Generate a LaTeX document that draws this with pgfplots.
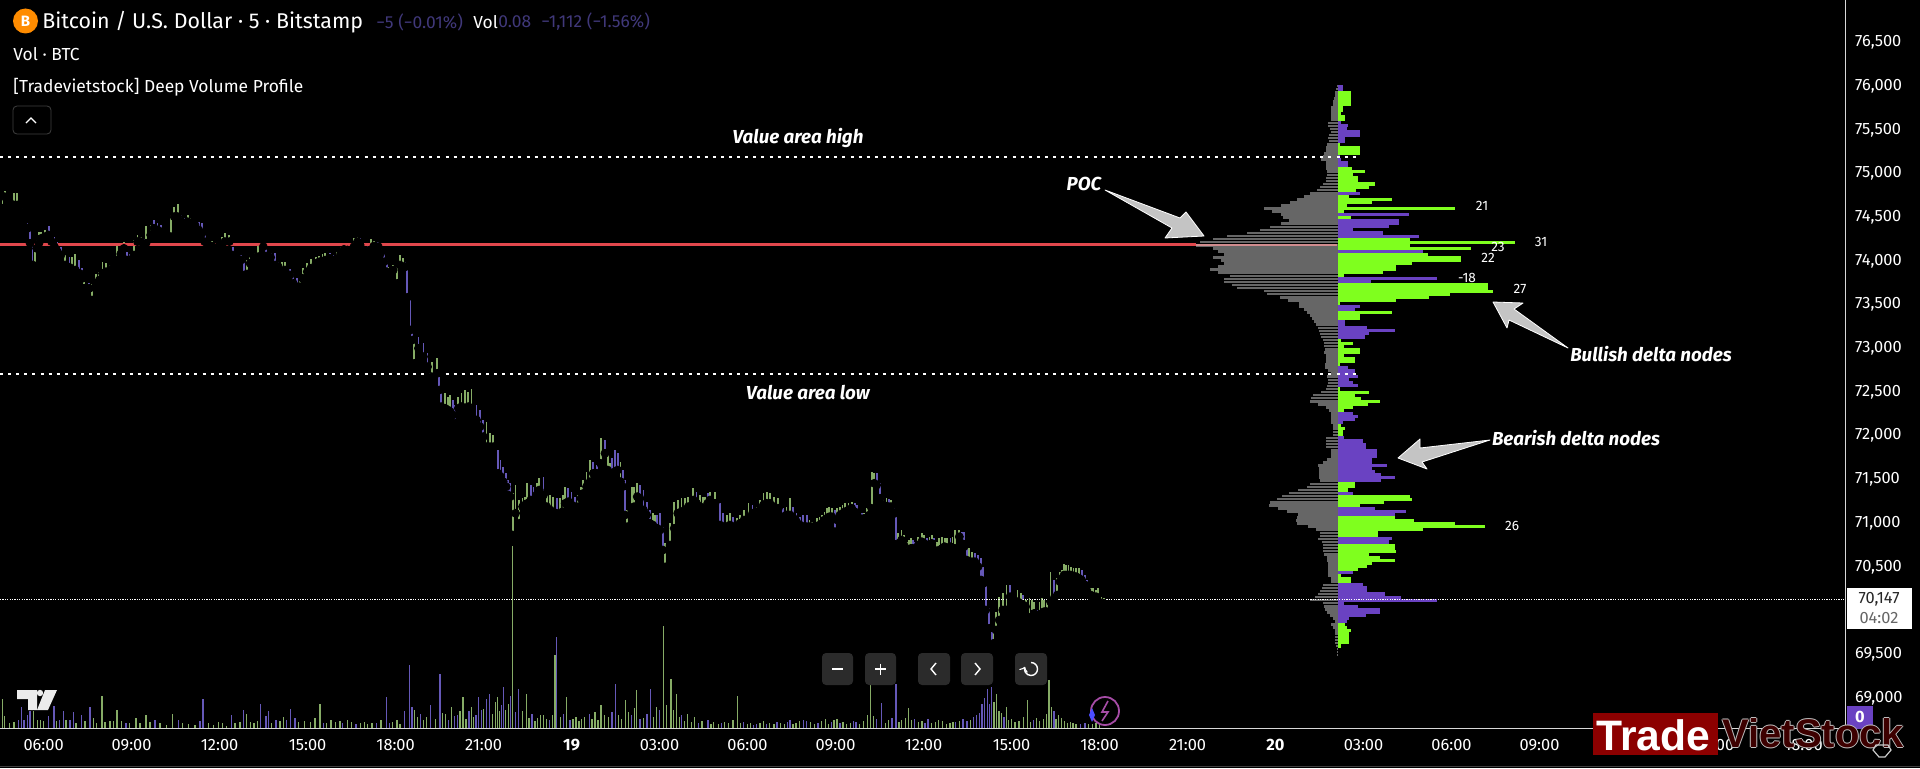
\documentclass[border=0pt]{standalone}
\usepackage{pgfplots}
\usepackage{pgfplotstable}
\usepackage{fontspec}
\pgfplotsset{compat=1.18}
\setmainfont{Fira Sans}
\newfontfamily\logofont{Liberation Sans}
\definecolor{cup}{HTML}{86AC66}
\definecolor{cdn}{HTML}{6558B8}
\definecolor{pgreen}{HTML}{7FFF1E}
\definecolor{ppurple}{HTML}{6A42C2}
\definecolor{pgray}{HTML}{666666}
\definecolor{axisc}{HTML}{D8D8D8}
\definecolor{dimp}{HTML}{40387A}
\definecolor{pocred}{HTML}{E0474C}
\definecolor{btn}{HTML}{2B2B2B}
\definecolor{arrowg}{HTML}{C4C4C4}

\pgfplotstableread{
t lo hi d
4.60 74602 74754 1
4.67 74735 74804 1
4.76 74690 74743 0
4.85 74667 74716 0
4.99 74640 74781 1
5.10 74640 74781 1
5.17 74583 74659 0
5.26 74526 74602 0
5.35 74468 74564 0
5.45 74373 74487 0
5.54 74202 74392 0
5.62 73954 74221 0
5.70 73942 74202 1
5.76 74144 74240 1
5.84 74202 74335 1
5.92 74259 74335 1
6.05 74278 74354 1
6.17 74297 74400 0
6.27 74221 74335 0
6.37 74163 74278 0
6.47 74106 74221 0
6.59 74068 74163 0
6.73 73954 74068 1
6.88 73927 74049 0
6.97 73839 74049 1
7.08 73896 74080 1
7.22 73858 74011 0
7.32 73801 73915 0
7.38 73687 73820 1
7.56 73687 73744 0
7.65 73553 73736 1
7.79 73725 73851 1
7.90 73782 73877 1
8.01 73858 73992 1
8.13 73877 73973 1
8.26 73866 73954 1
8.35 73915 73992 1
8.46 73973 74041 1
8.51 74011 74202 1
8.63 74080 74144 0
8.74 74144 74221 1
8.83 74011 74106 0
8.94 74011 74080 0
9.08 74068 74240 1
9.20 74221 74297 1
9.31 74221 74278 1
9.42 74182 74247 0
9.49 74202 74400 1
9.65 74297 74411 1
9.76 74373 74468 0
9.88 74354 74430 0
10.00 74335 74411 0
10.11 74278 74354 0
10.25 74278 74316 1
10.34 74278 74526 1
10.45 74507 74621 1
10.57 74507 74651 1
10.68 74449 74526 0
10.80 74430 74487 0
10.91 74449 74526 1
11.01 74430 74487 1
11.16 74411 74449 0
11.29 74354 74449 0
11.40 74316 74430 0
11.49 74221 74316 0
11.58 74194 74240 1
11.73 74171 74232 1
11.96 74163 74202 1
12.07 74171 74270 1
12.18 74221 74316 1
12.33 74221 74297 1
12.45 74068 74163 0
12.60 74030 74080 0
12.74 74011 74068 0
12.84 73839 74030 0
12.94 73851 74011 1
13.04 73973 74049 1
13.17 74041 74087 1
13.32 74049 74202 1
13.49 74163 74209 1
13.58 74056 74163 0
13.74 74041 74094 0
13.89 73953 74087 0
14.00 73934 73991 0
14.12 73877 73991 1
14.23 73896 73991 1
14.40 73839 73904 0
14.51 73743 73858 0
14.63 73705 73801 0
14.74 73705 73820 1
14.83 73801 73915 1
14.99 73877 73972 1
15.11 73915 74018 1
15.29 73972 74049 1
15.40 73991 74056 1
15.51 73991 74079 1
15.60 74010 74094 1
15.76 74029 74087 0
15.90 74010 74068 0
16.01 74029 74106 1
16.13 74087 74155 1
16.24 74132 74193 1
16.36 74125 74182 0
16.47 74125 74182 1
16.58 74163 74258 1
16.70 74220 74277 1
16.79 74182 74258 0
16.90 74117 74201 0
17.04 74117 74182 0
17.15 74125 74247 1
17.26 74171 74232 1
17.41 74163 74220 0
17.49 74087 74163 0
17.61 73991 74087 0
17.70 73877 74010 0
17.75 73820 73934 1
17.92 73896 73953 1
18.06 73743 73934 1
18.15 73953 74068 1
18.26 73934 74029 1
18.34 73934 73991 0
18.40 73583 73934 0
18.51 73210 73610 0
18.57 73095 73229 0
18.64 72828 73133 1
18.78 73000 73133 0
18.95 72905 73057 0
19.09 72790 72943 0
19.23 72676 72847 1
19.42 72714 72886 1
19.49 72523 72714 0
19.55 72333 72523 0
19.69 72314 72485 1
19.78 72295 72447 1
19.86 72276 72466 1
19.95 72237 72409 0
20.03 72142 72352 0
20.14 72314 72447 1
20.25 72333 72485 1
20.37 72314 72523 1
20.48 72333 72504 1
20.59 72256 72531 1
20.76 72180 72352 0
20.88 72104 72295 0
20.99 71990 72180 0
21.10 71875 72161 1
21.22 71875 72028 1
21.33 71875 72009 1
21.50 71570 71837 0
21.58 71532 71723 0
21.67 71475 71646 0
21.77 71417 71570 0
21.84 71322 71494 0
21.91 71303 71456 0
21.99 70865 71341 1
22.09 71113 71437 1
22.22 70998 71265 1
22.33 71189 71284 1
22.41 71208 71303 1
22.49 71227 71456 1
22.61 71265 71437 0
22.70 71227 71418 0
22.81 71322 71456 1
22.90 71379 71513 1
23.04 71322 71532 0
23.15 71189 71322 1
23.27 71151 71322 1
23.38 71113 71303 1
23.49 71113 71284 0
23.61 71055 71284 1
23.70 71132 71322 1
23.78 71227 71418 1
23.89 71246 71398 0
24.00 71208 71360 0
24.12 71189 71303 0
24.23 71189 71322 1
24.32 71284 71418 1
24.40 71341 71494 1
24.51 71418 71589 1
24.63 71475 71723 1
24.74 71570 71704 0
24.86 71570 71665 0
24.99 71684 71970 1
25.14 71799 71951 0
25.23 71608 71799 1
25.31 71532 71684 1
25.39 71570 71742 0
25.48 71589 71837 0
25.57 71608 71799 0
25.67 71475 71704 1
25.74 71418 71608 0
25.82 71094 71494 0
25.90 70960 71151 1
26.05 71151 71418 1
26.13 71189 71418 1
26.24 71303 71456 1
26.33 71284 71437 0
26.45 71151 71379 0
26.56 71094 71246 0
26.67 70998 71151 0
26.77 70979 71113 1
26.84 70941 71094 1
26.92 70941 71094 0
27.02 70922 71113 0
27.11 70693 70960 0
27.19 70500 70769 1
27.36 70750 70998 1
27.50 70941 71246 1
27.62 71113 71265 1
27.75 71132 71284 1
27.87 71151 71284 1
27.98 71189 71303 1
28.15 71265 71398 1
28.26 71227 71360 0
28.38 71189 71322 1
28.47 71170 71303 1
28.55 71151 71303 1
28.64 71227 71341 0
28.72 71265 71360 1
28.89 71227 71360 1
29.06 70979 71227 0
29.17 70960 71113 0
29.29 70960 71094 1
29.40 70979 71113 1
29.51 70960 71075 0
29.63 70960 71055 1
29.74 70998 71094 1
29.88 71036 71151 1
30.03 71055 71227 1
30.17 71113 71208 0
30.31 71075 71189 1
30.42 71151 71265 1
30.54 71208 71341 1
30.65 71227 71360 1
30.76 71227 71341 1
30.90 71189 71303 1
31.05 71170 71284 1
31.22 71075 71170 0
31.33 71094 71189 1
31.45 71094 71284 1
31.56 71055 71189 0
31.67 71017 71113 0
31.79 70979 71074 0
31.90 70960 71093 0
32.02 70960 71093 0
32.11 70960 71036 1
32.19 70960 71017 1
32.36 70960 71055 1
32.45 70979 71074 1
32.53 70998 71093 1
32.62 71036 71131 1
32.70 71055 71170 1
32.79 71074 71181 1
32.87 71074 71170 1
32.98 70903 71150 0
33.06 71036 71170 1
33.15 71093 71189 1
33.24 71112 71208 1
33.32 71131 71227 1
33.44 71150 71234 1
33.55 71170 71246 1
33.65 71131 71227 0
33.74 71093 71208 0
33.89 71036 71112 0
33.97 71055 71112 1
34.06 71055 71170 1
34.15 71093 71189 1
34.23 71170 71589 1
34.32 71456 71570 1
34.40 71436 71570 0
34.52 71284 71456 0
34.63 71208 71303 1
34.74 71189 71284 1
34.81 71189 71272 0
34.89 71189 71265 1
35.01 71112 71208 0
35.07 70731 71112 0
35.14 70769 70884 1
35.25 70807 70922 1
35.33 70750 70864 1
35.43 70655 70788 1
35.50 70674 70807 1
35.57 70712 70826 1
35.63 70712 70807 0
35.71 70693 70788 0
35.82 70750 70845 1
35.94 70788 70884 1
36.02 70769 70864 1
36.11 70750 70826 0
36.20 70750 70845 1
36.28 70769 70864 1
36.36 70693 70826 0
36.45 70674 70788 1
36.54 70693 70826 1
36.64 70712 70845 1
36.72 70731 70826 1
36.79 70712 70826 1
36.92 70731 70826 0
36.99 70712 70845 1
37.07 70712 70922 1
37.22 70845 70922 1
37.30 70769 70903 0
37.38 70731 70903 0
37.47 70578 70712 0
37.55 70559 70712 1
37.65 70559 70674 1
37.75 70559 70655 0
37.86 70502 70636 0
37.96 70350 70598 0
38.04 70312 70502 0
38.12 70007 70312 0
38.24 69797 70026 0
38.32 69549 69816 0
38.38 69625 69816 1
38.47 69778 69988 1
38.58 69892 70159 1
38.70 70007 70197 1
38.83 70007 70293 1
38.95 70159 70293 0
39.06 70102 70178 1
39.20 70102 70235 1
39.31 70083 70197 1
39.40 70064 70178 0
39.48 70045 70121 1
39.61 69892 70140 1
39.69 69930 70121 1
39.77 69968 70102 1
39.86 69930 70007 0
39.95 69949 70102 1
40.03 69968 70140 1
40.11 69988 70121 1
40.20 69988 70102 1
40.33 70102 70445 1
40.45 70140 70350 0
40.56 70178 70369 1
40.65 70331 70445 1
40.72 70369 70464 1
40.79 70407 70533 1
40.86 70407 70521 1
40.94 70407 70521 1
41.02 70407 70502 1
41.11 70396 70483 1
41.20 70388 70483 1
41.30 70369 70483 1
41.39 70350 70464 0
41.51 70293 70407 0
41.56 70235 70350 0
41.62 70178 70254 1
41.70 70178 70254 1
41.79 70159 70254 1
41.88 70159 70235 1
41.96 70102 70254 1
42.07 70083 70159 1
42.15 70083 70140 1
}\candles

\pgfplotstableread{
t v d
4.60 30 1
4.67 13 1
4.83 6 1
4.99 7 1
5.14 9 0
5.25 22 0
5.33 9 0
5.45 14 0
5.54 18 0
5.65 18 1
5.79 9 1
5.90 9 1
5.99 8 1
6.16 13 0
6.35 23 0
6.45 8 1
6.54 9 0
6.67 18 0
6.76 9 1
6.90 9 0
7.01 17 0
7.10 6 1
7.30 14 0
7.41 8 1
7.58 22 0
7.70 11 1
7.81 6 1
7.99 33 1
8.09 7 1
8.26 8 1
8.38 8 1
8.50 19 1
8.66 8 1
8.81 6 0
8.94 6 1
9.15 11 1
9.29 6 1
9.49 14 1
9.63 7 1
9.80 9 0
9.97 6 1
10.19 4 1
10.40 15 1
10.59 9 0
10.74 6 1
10.93 5 1
11.16 4 1
11.33 8 0
11.43 30 0
11.62 6 1
11.79 4 1
11.96 7 1
12.10 6 1
12.24 3 1
12.41 14 0
12.53 6 1
12.70 7 1
12.81 19 0
12.92 15 1
13.06 7 1
13.17 6 1
13.29 8 1
13.40 25 0
13.58 13 0
13.66 18 0
13.77 6 1
13.92 9 0
14.06 8 1
14.17 12 1
14.29 9 0
14.42 20 0
14.57 11 0
14.70 7 1
14.90 8 1
15.10 7 1
15.25 11 1
15.42 25 1
15.55 6 0
15.65 6 1
15.80 9 1
15.95 7 1
16.10 8 1
16.20 6 0
16.35 9 1
16.50 7 1
16.65 5 0
16.80 6 1
16.95 7 1
17.05 5 1
17.20 6 1
17.35 6 0
17.50 9 1
17.69 32 0
17.80 6 0
17.90 7 1
18.05 9 1
18.15 5 1
18.30 18 0
18.47 64 0
18.56 22 0
18.65 19 1
18.75 12 1
18.85 15 0
18.95 9 1
19.05 12 1
19.20 24 0
19.35 10 1
19.51 55 0
19.60 16 1
19.70 15 1
19.80 9 0
19.90 22 1
20.00 13 0
20.10 14 0
20.20 18 1
20.30 32 1
20.40 10 1
20.50 18 0
20.58 22 1
20.65 12 1
20.74 14 0
20.82 32 0
20.92 19 0
21.00 20 1
21.10 30 0
21.21 35 0
21.30 15 1
21.40 27 1
21.47 32 1
21.55 18 1
21.62 24 0
21.68 42 0
21.75 19 1
21.85 25 1
21.92 33 0
21.99 183 1
22.08 17 0
22.20 40 0
22.33 18 1
22.46 35 1
22.55 11 1
22.65 15 0
22.75 8 1
22.85 11 1
22.95 14 1
23.05 14 1
23.15 10 1
23.25 9 0
23.34 14 1
23.43 74 1
23.48 92 0
23.62 12 1
23.72 15 0
23.82 32 1
23.95 9 0
24.05 10 1
24.15 12 1
24.25 8 1
24.35 10 1
24.45 12 1
24.60 15 0
24.70 10 1
24.80 17 1
24.90 9 1
25.00 24 1
25.12 14 1
25.25 12 1
25.38 17 0
25.50 45 0
25.60 14 1
25.70 10 1
25.85 29 1
25.95 17 1
26.05 14 0
26.14 21 1
26.22 39 1
26.33 10 0
26.45 11 1
26.57 15 0
26.69 40 0
26.80 12 1
26.90 22 1
27.00 19 0
27.13 103 1
27.24 24 1
27.39 50 1
27.48 19 1
27.58 35 1
27.68 12 1
27.75 14 0
27.85 8 1
27.95 15 1
28.10 7 1
28.20 12 1
28.33 6 0
28.45 8 1
28.65 9 0
28.75 5 1
28.85 7 1
29.00 5 1
29.10 6 0
29.22 7 1
29.35 6 1
29.50 9 1
29.66 33 1
29.75 6 1
29.85 7 0
30.00 5 1
30.10 6 1
30.20 4 0
30.30 5 0
30.42 6 1
30.55 8 1
30.65 5 0
30.75 6 1
30.90 5 1
31.00 7 0
31.12 6 1
31.25 5 1
31.35 7 0
31.45 9 0
31.55 5 1
31.65 6 1
31.78 8 1
31.90 9 0
32.02 8 0
32.15 7 1
32.28 5 1
32.40 6 0
32.52 8 1
32.65 10 1
32.75 5 1
32.85 7 0
32.95 9 1
33.05 10 1
33.15 6 0
33.25 7 1
33.38 5 1
33.50 6 1
33.60 8 0
33.70 7 0
33.82 5 1
33.95 8 1
34.08 14 1
34.20 45 1
34.30 13 1
34.40 10 0
34.57 26 0
34.70 6 1
34.80 9 1
34.92 11 0
35.06 45 0
35.16 7 1
35.25 9 1
35.38 11 1
35.48 21 1
35.58 9 1
35.70 10 0
35.82 7 1
35.95 8 1
36.05 6 0
36.15 10 0
36.28 6 1
36.40 7 1
36.52 9 1
36.65 8 1
36.78 5 1
36.90 6 1
37.00 7 1
37.10 7 0
37.22 8 1
37.35 10 0
37.48 8 0
37.60 9 1
37.70 12 0
37.80 14 0
37.90 16 0
37.99 25 0
38.08 31 0
38.17 40 0
38.24 25 0
38.32 42 0
38.40 27 1
38.48 35 1
38.57 18 1
38.65 16 1
38.74 12 0
38.82 22 1
38.90 9 1
39.00 10 1
39.12 7 1
39.25 8 1
39.40 12 1
39.55 29 1
39.65 7 1
39.75 9 0
39.85 11 1
39.95 8 1
40.10 10 1
40.20 15 1
40.28 49 1
40.37 22 1
40.45 18 0
40.52 10 1
40.60 14 1
40.70 11 1
40.80 8 1
40.90 6 1
41.00 7 1
41.10 6 1
41.20 5 1
41.35 5 0
41.50 6 0
41.62 5 1
41.75 5 1
41.88 6 1
42.00 4 1
}\volume

\pgfplotstableread{
p d g
76000 -0.9 0.1
75965 -0.9 0.3
75930 2.2 0.5
75895 2.2 0.6
75860 2.2 0.7
75825 2.2 0.9
75790 2.2 0.8
75755 0.9 1.2
75720 0.9 1.3
75685 0.5 1.2
75650 1.3 1.2
75615 1.3 1.3
75580 -0.5 1.8
75545 -1.8 1.7
75510 -1.5 1.4
75475 -3.8 1.2
75440 -3.8 1.6
75405 -1.3 1.8
75370 -1.3 1.6
75335 0.3 1.9
75300 3.9 2.2
75265 3.9 2.2
75230 3.9 2.4
75195 -0.3 2.6
75160 -0.6 3.0
75125 -1.8 2.2
75090 -1.8 2.2
75055 2.5 2.2
75020 4.8 2.0
74985 2.6 1.9
74950 3.5 2.2
74915 3.5 2.2
74880 6.5 2.6
74845 5.5 3.1
74810 3.2 3.7
74775 -3.8 4.9
74740 2 6.0
74705 9.5 7.2
74670 6 8.5
74635 1.5 10
74600 20.6 13
74565 1 11.5
74530 -12.5 10
74495 2.2 9.7
74460 -10.7 8.6
74425 -10.7 10
74390 -8.9 12
74355 -2.6 13.7
74320 -7.8 16
74285 -14.2 19.5
74250 12.6 22
74215 31 24.3
74180 12.6 24.9
74145 23.3 22
74110 -14.9 21
74075 15.8 20
74040 21.5 22
74005 21.5 20.5
73970 12.9 20
73935 10.2 21
73900 10.2 22.5
73865 7.8 21
73830 1 19
73795 -17.3 20
73760 -5.8 20
73725 26.3 18.6
73690 26.3 17.8
73655 27.1 13
73620 19.6 12.5
73585 16 10.2
73550 10.2 8.8
73515 0.3 6.8
73480 -3.9 6.8
73445 -3 6
73410 9.5 5.5
73375 3.8 5
73340 3.8 4.6
73305 -1.3 4.2
73270 -1.3 3.8
73235 -5 3.5
73200 -10 3.4
73165 -5.5 3.2
73130 -4.7 3
73095 0.5 2.6
73060 2.6 2.4
73025 1 2.4
72990 3.9 2.3
72955 3.9 2.4
72920 1 2.2
72885 2.9 2.2
72850 2.9 2.2
72815 0.3 2.3
72780 -1.8 2.3
72745 -2.9 1.8
72710 -2.9 1.2
72675 -3.5 2.0
72640 -2 1.8
72605 -2.6 1.7
72570 -3.5 2.0
72535 0.3 2.2
72500 5.5 3.0
72465 3 4.4
72430 4 4.7
72395 7.3 4.9
72360 5.2 3.5
72325 2.6 2.2
72290 1 1.6
72255 -2.7 1.2
72220 -3.5 1.3
72185 -3 1.3
72150 -0.8 1.3
72115 0.6 0.8
72080 1.3 0.8
72045 0.9 0.8
72010 0.9 0.8
71975 -1 2.2
71940 -4.4 2.2
71905 -4.9 2.2
71870 -4.9 2.2
71835 -6.9 1.3
71800 -6.9 1.3
71765 -6.9 1.3
71730 -6 2
71695 -6 2.6
71660 -8.6 3.5
71625 -6 3.4
71590 -6.4 3.3
71555 -7.6 3.3
71520 -10 3.3
71485 -7.6 3.2
71450 2.9 5
71415 2.9 5.5
71380 1.8 7
71345 -2.6 8.6
71310 12.7 9.8
71275 12.9 10.7
71240 8 12
71205 3.8 12.1
71170 -6.4 10.5
71135 -12 9
71100 -10 7
71065 10 7.2
71030 13.3 7.3
70995 20.6 7.2
70960 25.7 5.3
70925 14.9 3.8
70890 7 3.2
70855 7 3.2
70820 -9.5 3.5
70785 -9 2.9
70750 10 2.6
70715 10 2.6
70680 10.2 2.6
70645 5.4 2.4
70610 7.3 2
70575 10 2
70540 6 1.8
70505 5 1.8
70470 3.5 1.8
70435 -2.6 1.8
70400 0.6 1.8
70365 2.2 1.3
70330 2.2 1.3
70295 -4.4 2.6
70260 -5.1 2.9
70225 -5.1 3.2
70190 -8.2 3.5
70155 -11 4.1
70120 -17.3 4.9
70085 -1 2.6
70050 -3.5 2.5
70015 -7.3 2.3
69980 -7.3 2
69945 -4.9 1.4
69910 -2 0.9
69875 -1.5 0.6
69840 1.3 1.2
69805 1.6 0.9
69770 2.2 0.6
69735 1.9 0.6
69700 1.9 0.6
69665 1.9 0.6
69630 1.9 0.5
69595 0.5 0.4
69560 0 0.1
69525 0 0.1
69490 0 0.1
}\profile

\pgfplotsset{
  canvas/.style={scale only axis,width=922.85pt,height=364.35pt,at={(0pt,19.65pt)},anchor=south west},
  pricey/.style={ymin=68649,ymax=76985},
}
\begin{document}
\begin{tikzpicture}
\fill[black] (0,0) rectangle (960pt,384pt);
\useasboundingbox (0,0) rectangle (960pt,384pt);

% volume
\begin{axis}[canvas,hide axis,xmin=4.513,xmax=67.44,ymin=0,ymax=728.7]
\addplot[ycomb,line width=0.65pt,color=cup,restrict expr to domain={\thisrow{d}}{1:1}] table[x=t,y=v] {\volume};
\addplot[ycomb,line width=0.65pt,color=cdn,restrict expr to domain={\thisrow{d}}{0:0}] table[x=t,y=v] {\volume};
\end{axis}

% volume profile
\begin{axis}[canvas,hide axis,pricey,xmin=-234.74,xmax=89.07]
\addplot[xcomb,line width=1.3pt,color=pgray] table[x expr=-\thisrow{g},y=p] {\profile};
\addplot[xcomb,line width=1.53pt,color=pgreen,restrict x to domain=0.001:100] table[x=d,y=p] {\profile};
\addplot[xcomb,line width=1.53pt,color=ppurple,restrict expr to domain={-\thisrow{d}}{0.001:100}] table[x expr=-\thisrow{d},y=p] {\profile};
\end{axis}

% price
\begin{axis}[canvas,pricey,xmin=4.513,xmax=67.44,
  axis x line*=bottom,axis y line*=right,
  axis line style={-,color=axisc,line width=0.6pt},
  tick style={draw=none},
  xtick={6,9,12,15,18,21,24,27,30,33,36,39,42,45,48,51,54,57,60,63,66},
  xticklabels={06:00,09:00,12:00,15:00,18:00,21:00,\textbf{19},03:00,06:00,09:00,12:00,15:00,18:00,21:00,\textbf{20},03:00,06:00,09:00,12:00,15:00,18:00},
  ytick={69000,69500,70500,71000,71500,72000,72500,73000,73500,74000,74500,75000,75500,76000,76500},
  scaled y ticks=false,
  yticklabel pos=right,
  /pgf/number format/fixed,
  /pgf/number format/assume math mode=true,
  /pgf/number format/1000 sep={,},
  ticklabel style={text=white,font=\fontsize{8.2}{9}\selectfont},
  xticklabel style={yshift=-1.8pt},
  yticklabel style={xshift=1.2pt},
]
\addplot[only marks,mark=none,restrict expr to domain={\thisrow{d}}{1:1},
  error bars/.cd,y dir=plus,y explicit,error mark=none,error bar style={line width=0.9pt,color=cup}]
  table[x=t,y=lo,y error expr=\thisrow{hi}-\thisrow{lo}] {\candles};
\addplot[only marks,mark=none,restrict expr to domain={\thisrow{d}}{0:0},
  error bars/.cd,y dir=plus,y explicit,error mark=none,error bar style={line width=0.9pt,color=cdn}]
  table[x=t,y=lo,y error expr=\thisrow{hi}-\thisrow{lo}] {\candles};
% levels
\addplot[color=white,line width=1.1pt,dash pattern=on 1.5pt off 2.55pt] coordinates {(4.513,75190) (50.8,75190)};
\addplot[color=white,line width=1.1pt,dash pattern=on 1.5pt off 2.55pt] coordinates {(4.513,72710) (50.8,72710)};
\addplot[color=white,line width=0.5pt,dash pattern=on 0.6pt off 0.6pt] coordinates {(4.513,70130) (67.44,70130)};
\addplot[color=pocred,line width=1.4pt] coordinates {(4.513,74186) (45.3,74186)};
\addplot[color=pocred!45!arrowg,line width=0.9pt] coordinates {(45.3,74186) (50.1,74186)};
\end{axis}

\begin{scope}[x=0.5pt,y=-0.5pt,yshift=384pt]
% header
\fill[orange!90!yellow] (25.5,21) circle (12.5);
\node[text=white,font=\fontsize{7.5}{9}\bfseries\selectfont] at (25.5,21) {B};
\node[anchor=west,inner sep=0,text=white,font=\fontsize{10.7}{12}\selectfont] at (42,22) {Bitcoin / U.S. Dollar · 5 · Bitstamp};
\node[anchor=west,inner sep=0,text=dimp,font=\fontsize{8.7}{10}\selectfont] at (376,22) {−5 (−0.01\%)};
\node[anchor=west,inner sep=0,text=white,font=\fontsize{8.7}{10}\selectfont] at (473,22) {Vol};
\node[anchor=west,inner sep=0,text=dimp,font=\fontsize{8.7}{10}\selectfont] at (498,22) {0.08};
\node[anchor=west,inner sep=0,text=dimp,font=\fontsize{8.7}{10}\selectfont] at (541,22) {−1,112 (−1.56\%)};
\node[anchor=west,inner sep=0,text=white,font=\fontsize{8.7}{10}\selectfont] at (13,54) {Vol · BTC};
\node[anchor=west,inner sep=0,text=white,font=\fontsize{8.7}{10}\selectfont] at (13,87) {[Tradevietstock] Deep Volume Profile};
\draw[color=white!25!black,line width=0.4pt,rounded corners=2pt] (13,106) rectangle (51,134);
\draw[color=white,line width=0.7pt] (26,123) -- (31,118) -- (36,123);
% annotations
\newcommand\ann[2]{\node[text=white,font=\fontsize{9.4}{11}\bfseries\itshape\selectfont,inner sep=0] at (#1) {#2};}
\ann{798,138}{Value area high}
\ann{808,393}{Value area low}
\ann{1084,184}{POC}
\ann{1651,354}{Bullish delta nodes}
\ann{1576,438}{Bearish delta nodes}
% arrows
\filldraw[fill=arrowg,draw=white,line width=0.4pt,line join=round] (1105,190) -- (1180,218) -- (1186,212) -- (1204,236) -- (1165,238) -- (1172,228) -- cycle;
\filldraw[fill=arrowg,draw=white,line width=0.4pt,line join=round] (1493,302) -- (1523,303) -- (1514,309) -- (1568,348) -- (1509,320) -- (1507,328) -- cycle;
\filldraw[fill=arrowg,draw=white,line width=0.4pt,line join=round] (1398,458) -- (1420,439) -- (1420,448) -- (1490,440) -- (1422,462) -- (1427,469) -- cycle;
% delta labels
\newcommand\dl[2]{\node[text=white,font=\fontsize{6.8}{8}\selectfont,inner sep=0] at (#1) {#2};}
\dl{1482,206}{21}\dl{1541,242}{31}\dl{1498,247}{23}\dl{1488,258}{22}\dl{1467,278}{-18}\dl{1520,289}{27}\dl{1512,526}{26}
% zoom buttons
\foreach \a/\b in {822/853,865/896,918/950,961/993,1015/1047}{
  \fill[btn,rounded corners=2pt] (\a,653) rectangle (\b,685);}
\draw[white,line width=0.7pt] (832,669) -- (843,669);
\draw[white,line width=0.7pt] (875,669) -- (886,669) (880.5,663.5) -- (880.5,674.5);
\draw[white,line width=0.7pt] (936,663) -- (931,669) -- (936,675);
\draw[white,line width=0.7pt] (975,663) -- (980,669) -- (975,675);
\draw[white,line width=0.7pt,->,>=to] (1031,662.5) arc[start angle=-90,end angle=200,radius=6.5];
% TV logo
\fill[white!92!black] (17,690) -- (37,690) -- (37,710) -- (28,710) -- (28,699) -- (17,699) -- cycle;
\fill[white!92!black] (45,690) -- (57,690) -- (48,710) -- (37,710) -- cycle;
\fill[white!92!black] (40,693) circle (3.2);
% assistant icon
\draw[color=violet!70!white,line width=0.9pt] (1105,711) circle (14);
\draw[color=violet!70!white,line width=0.8pt] (1108,701) -- (1102,712) -- (1108,712) -- (1102,721);
\fill[color=blue!70!white] (1092,708) -- (1095,715) -- (1092,722) -- (1089,715) -- cycle;
% bottom frame
\draw[color=white!25!black,line width=0.5pt] (0,766.5) -- (1920,766.5);
% last price label
\fill[white] (1846.5,588) rectangle (1912,629);
\node[text=black!85,font=\fontsize{8.2}{9}\selectfont,inner sep=0] at (1879,599) {70,147};
\node[text=black!60,font=\fontsize{8.2}{9}\selectfont,inner sep=0] at (1879,618) {04:02};
\fill[ppurple] (1847,706) rectangle (1873,728.5);
\node[text=white,font=\fontsize{8.2}{9}\bfseries\selectfont,inner sep=0] at (1860,717) {0};
% logo
\fill[red!55!black] (1593,713) rectangle (1718,755);
\node[text=white,font=\logofont\fontsize{21.3}{24}\bfseries\selectfont,inner sep=0,anchor=west] at (1596,735) {Trade};
\foreach \dx/\dy in {-1/0,1/0,0/-1,0/1}{
  \node[text=white!75!black,font=\logofont\fontsize{20}{22}\bfseries\selectfont,inner sep=0,anchor=west] at (1722+\dx,733+\dy) {VietStock};}
\node[text=black!60!red!60!black,font=\logofont\fontsize{20}{22}\bfseries\selectfont,inner sep=0,anchor=west] at (1722,733) {VietStock};
% hexagon icon under the watermark
\draw[color=white!80!black,line width=0.6pt] (1876,745) -- (1888,745) -- (1891,750) -- (1885,757) -- (1879,757) -- (1873,750) -- cycle;
\end{scope}
\end{tikzpicture}
\end{document}
